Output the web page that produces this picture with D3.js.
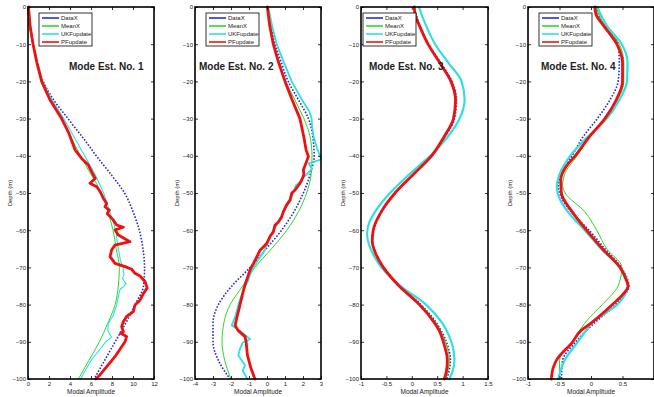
<!DOCTYPE html>
<html><head><meta charset="utf-8">
<script src="https://cdn.jsdelivr.net/npm/d3@7"></script>
<style>
html,body{margin:0;padding:0;background:#fff;}
svg{display:block;font-family:"Liberation Sans",Arial,sans-serif;}
</style></head>
<body><svg id="c" width="654" height="397"></svg>
<script>
// ---------- data: [depth (m), modal amplitude] ----------
const yTicks = [0,-10,-20,-30,-40,-50,-60,-70,-80,-90,-100];
const seriesNames = ["DataX","MeanX","UKFupdate","PFupdate"];
const titles = ["Mode Est. No. 1","Mode Est. No. 2","Mode Est. No. 3","Mode Est. No. 4"];
const xDomains = [[0,12],[-4,3],[-1,1.5],[-1,1]];
const xTicks1 = [0,2,4,6,8,10,12];
const xTicks2 = [-4,-3,-2,-1,0,1,2,3];
const xTicks3 = [-1,-0.5,0,0.5,1,1.5];
const xTicks4 = [-1,-0.5,0,0.5];

// Mode 1
const m1DataX = [[0,0],[-5,0.15],[-10,0.5],[-15,0.9],[-20,1.45],[-25,2.45],[-30,3.8],[-35,5.2],[-40,6.5],[-45,7.9],[-50,9.2],[-55,10.0],[-60,10.6],[-65,10.95],[-70,11.1],[-75,11.0],[-80,10.2],[-85,9.3],[-90,8.3],[-95,7.3],[-100,6.3]];
const m1MeanX = [[0,0],[-5,0.15],[-10,0.45],[-15,0.85],[-20,1.35],[-25,2.2],[-30,3.2],[-35,4.1],[-40,5.0],[-45,6.0],[-50,7.0],[-55,7.6],[-60,8.1],[-65,8.4],[-70,8.7],[-75,8.6],[-80,8.3],[-85,7.6],[-90,6.8],[-95,5.8],[-100,4.8]];
const m1UKF = [[0,0],[-5,0.15],[-10,0.48],[-15,0.9],[-20,1.4],[-25,2.3],[-30,3.4],[-35,4.4],[-40,5.4],[-45,6.4],[-50,7.2],[-55,7.8],[-60,8.35],[-65,8.6],[-68,8.8],[-70,9.05],[-72,9.15],[-73,9.0],[-74.5,9.35],[-76,8.75],[-80,8.45],[-83,8.1],[-85,7.65],[-87,7.6],[-88.8,7.95],[-90,7.4],[-92,6.85],[-95,6.0],[-97,5.6],[-100,5.0]];
const m1PF = [[0,0.05],[-5,0.2],[-10,0.48],[-15,0.85],[-20,1.3],[-25,2.1],[-30,3.2],[-34,3.9],[-38.4,4.48],[-40.7,5.11],[-42.5,5.75],[-44.5,6.1],[-46.1,6.4],[-47.4,5.9],[-48.3,6.54],[-49.6,6.86],[-51.4,7.17],[-52.8,7.49],[-53.7,7.33],[-54.6,7.74],[-55.5,7.55],[-57.3,8.13],[-58.6,8.44],[-59.2,9.08],[-59.9,8.29],[-61.3,8.6],[-63.1,9.71],[-64,8.29],[-65.3,7.97],[-67.1,7.81],[-68.9,8.29],[-69.8,9.24],[-70.5,9.87],[-71.6,10.19],[-72.3,10.67],[-73.8,11.14],[-75.5,11.35],[-77,11.0],[-78.8,10.67],[-80.1,10.19],[-81.9,10.03],[-83.2,9.39],[-84.6,9.08],[-85.9,8.92],[-87.3,9.08],[-87.7,8.82],[-88.6,9.39],[-90,9.24],[-94,8.28],[-98.9,6.85],[-100,6.46]];

// Mode 2
const m2DataX = [[0,0.05],[-5,0.2],[-10,0.45],[-15,0.8],[-20,1.18],[-25,1.75],[-30,2.3],[-35,2.55],[-40,2.62],[-45,2.4],[-50,2.02],[-55,1.5],[-60,0.81],[-65,-0.05],[-70,-0.94],[-75,-1.95],[-80,-2.7],[-85,-3.0],[-90,-3.0],[-95,-2.7],[-100,-2.05]];
const m2MeanX = [[0,0.02],[-5,0.15],[-10,0.38],[-15,0.7],[-20,1.05],[-25,1.55],[-30,2.05],[-35,2.4],[-40,2.5],[-45,2.45],[-50,2.2],[-55,1.75],[-60,1.1],[-65,0.25],[-70,-0.67],[-75,-1.35],[-80,-2.05],[-85,-2.4],[-90,-2.5],[-95,-2.35],[-100,-2.0]];
const m2UKF = [[0,0.07],[-5,0.28],[-10,0.54],[-15,0.95],[-20,1.37],[-25,1.95],[-28,2.35],[-30,2.48],[-32,2.5],[-35,2.6],[-38,2.78],[-40,2.95],[-41,3.0],[-42,2.3],[-43.5,2.5],[-45.5,2.1],[-47,1.85],[-48,1.6],[-50,1.45],[-52,1.3],[-54,1.05],[-55,0.95],[-57,0.7],[-58.5,0.55],[-60,0.35],[-62,0.15],[-64,0.0],[-66,-0.2],[-68,-0.5],[-70,-0.76],[-72,-0.95],[-73.4,-1.03],[-75,-1.2],[-78,-1.45],[-80,-1.59],[-83,-1.75],[-85.6,-1.96],[-87,-1.5],[-89.3,-0.94],[-90.2,-1.35],[-91.9,-1.5],[-93.7,-1.59],[-96.3,-1.22],[-97.7,-1.35],[-100,-1.09]];
const m2PF = [[0,0.02],[-5,0.15],[-10,0.35],[-15,0.65],[-20,1.0],[-25,1.4],[-30,1.83],[-35,2.05],[-38.4,2.17],[-40.2,2.3],[-41.5,2.2],[-43.8,2.02],[-45,2.05],[-46.5,1.93],[-47.4,1.83],[-49.2,1.56],[-50.1,1.37],[-51.9,1.28],[-53.2,1.09],[-54.1,1.0],[-55,0.91],[-56.5,0.81],[-57.8,0.63],[-58.7,0.44],[-60.5,0.35],[-61.4,0.2],[-62.7,0.07],[-63.6,-0.02],[-64.5,-0.2],[-65.4,-0.39],[-67.2,-0.57],[-69,-0.76],[-70.3,-0.91],[-72.1,-1.04],[-73.9,-1.17],[-76,-1.3],[-80.1,-1.5],[-84,-1.7],[-85.6,-1.77],[-87,-1.6],[-88.6,-1.22],[-90,-1.16],[-93.5,-1.09],[-97,-0.9],[-100,-0.67]];

// Mode 3
const m3DataX = [[0,0.05],[-5,0.16],[-10,0.33],[-15,0.57],[-20,0.79],[-25,0.88],[-30,0.84],[-35,0.65],[-40,0.4],[-45,0.04],[-50,-0.32],[-55,-0.59],[-60,-0.75],[-63,-0.77],[-66,-0.71],[-70,-0.55],[-75,-0.23],[-80,0.18],[-85,0.49],[-90,0.68],[-95,0.76],[-100,0.69]];
const m3MeanX = [[0,0.05],[-5,0.16],[-10,0.33],[-15,0.56],[-20,0.78],[-25,0.87],[-30,0.83],[-35,0.64],[-40,0.4],[-45,0.04],[-50,-0.32],[-55,-0.6],[-60,-0.76],[-63,-0.78],[-66,-0.72],[-70,-0.56],[-75,-0.24],[-80,0.17],[-85,0.48],[-90,0.66],[-95,0.74],[-100,0.67]];
const m3UKF = [[0,0.14],[-5,0.28],[-10,0.46],[-15,0.72],[-20,0.98],[-25,1.04],[-30,0.94],[-35,0.7],[-40,0.36],[-45,-0.05],[-50,-0.43],[-55,-0.72],[-58,-0.84],[-61,-0.88],[-64,-0.84],[-67,-0.74],[-70,-0.6],[-75,-0.22],[-80,0.28],[-85,0.6],[-88,0.72],[-91,0.8],[-95,0.84],[-98,0.8],[-100,0.74]];
const m3PF = [[0,0.05],[-2,0.06],[-5,0.15],[-10,0.32],[-15,0.55],[-20,0.77],[-25,0.86],[-30,0.82],[-35,0.63],[-40,0.39],[-45,0.03],[-50,-0.33],[-55,-0.6],[-60,-0.76],[-63,-0.78],[-66,-0.72],[-70,-0.56],[-75,-0.25],[-80,0.15],[-85,0.45],[-87,0.54],[-90,0.62],[-95,0.7],[-98,0.68],[-100,0.64]];

// Mode 4
const m4DataX = [[0,0.08],[-5,0.2],[-10,0.43],[-15,0.45],[-20,0.43],[-25,0.3],[-30,0.1],[-35,-0.13],[-40,-0.3],[-45,-0.47],[-48,-0.52],[-50,-0.5],[-55,-0.32],[-60,-0.03],[-65,0.22],[-70,0.48],[-75,0.6],[-80,0.39],[-85,0.05],[-90,-0.24],[-95,-0.45],[-100,-0.47]];
const m4MeanX = [[0,0.07],[-5,0.22],[-10,0.45],[-15,0.52],[-20,0.52],[-25,0.42],[-30,0.22],[-35,-0.02],[-40,-0.22],[-45,-0.42],[-48,-0.45],[-50,-0.41],[-55,-0.1],[-60,0.09],[-65,0.25],[-70,0.49],[-73.4,0.46],[-75,0.43],[-80,0.18],[-85,-0.1],[-87,-0.18],[-90,-0.3],[-95,-0.5],[-100,-0.5]];
const m4UKF = [[0,0.1],[-5,0.25],[-10,0.49],[-15,0.58],[-20,0.57],[-25,0.45],[-30,0.25],[-35,-0.06],[-40,-0.33],[-45,-0.5],[-48,-0.54],[-50,-0.53],[-55,-0.37],[-60,-0.1],[-65,0.16],[-70,0.46],[-73.4,0.57],[-75,0.58],[-80,0.42],[-85,0.0],[-87,-0.08],[-90,-0.21],[-95,-0.42],[-100,-0.52]];
const m4PF = [[0,0.06],[-2,0.08],[-5,0.2],[-10,0.41],[-15,0.5],[-20,0.5],[-25,0.4],[-30,0.22],[-35,-0.03],[-40,-0.25],[-43,-0.4],[-46.5,-0.48],[-50,-0.47],[-55,-0.3],[-60,-0.07],[-65,0.18],[-70,0.46],[-73.4,0.56],[-75,0.59],[-77,0.52],[-80,0.34],[-85,0.0],[-87,-0.16],[-90,-0.29],[-95,-0.55],[-97,-0.6],[-100,-0.63]];

const panelData = [
  [m1DataX, m1MeanX, m1UKF, m1PF],
  [m2DataX, m2MeanX, m2UKF, m2PF],
  [m3DataX, m3MeanX, m3UKF, m3PF],
  [m4DataX, m4MeanX, m4UKF, m4PF]
];
const panelTicks = [xTicks1, xTicks2, xTicks3, xTicks4];

// ---------- layout / style ----------
const layout = [
  {x0:28, x1:154, titleX:69, legX:39, labX:10},
  {x0:195, x1:321, titleX:199, legX:206, labX:177},
  {x0:361, x1:488, titleX:369, legX:363, labX:343},
  {x0:528, x1:654, titleX:541, legX:539, labX:510}
];
const colors = ["#2b2bd0","#2ed62e","#2ee0e0","#ee1111"];
const cyanWidth = [1.1, 1.8, 2.2, 2.2];
const jagged = [true, true, false, false];
const yTop = 7, yBottom = 379;

const svg = d3.select("#c");
const y = d3.scaleLinear().domain([0,-100]).range([yTop,yBottom]);

layout.forEach((L, i) => {
  const g = svg.append("g");
  const x = d3.scaleLinear().domain(xDomains[i]).range([L.x0, L.x1]);

  // curves
  panelData[i].forEach((ser, s) => {
    const curve = (jagged[i] && s >= 2) ? d3.curveLinear : d3.curveMonotoneY;
    const line = d3.line().x(d => x(d[1])).y(d => y(d[0])).curve(curve);
    const p = g.append("path").datum(ser).attr("d", line)
      .attr("fill","none").attr("stroke", colors[s])
      .attr("stroke-linejoin","round").attr("stroke-linecap", s===0 ? "butt" : "round");
    if (s === 0) p.attr("stroke-width",1.6).attr("stroke-dasharray","1.6,1.6");
    else if (s === 1) p.attr("stroke-width",1);
    else if (s === 2) p.attr("stroke-width",cyanWidth[i]);
    else p.attr("stroke-width",2.8);
  });

  // axes
  const axL = d3.axisLeft(y).tickValues(yTicks).tickSizeInner(-3).tickSizeOuter(0).tickPadding(2).tickFormat(d3.format("d"));
  const axR = d3.axisRight(y).tickValues(yTicks).tickSizeInner(-3).tickSizeOuter(0).tickFormat("");
  const axB = d3.axisBottom(x).tickValues(panelTicks[i]).tickSizeInner(-3).tickSizeOuter(0).tickPadding(3).tickFormat(d => String(d));
  const axT = d3.axisTop(x).tickValues(panelTicks[i]).tickSizeInner(-3).tickSizeOuter(0).tickFormat("");
  const gl = g.append("g").attr("transform",`translate(${L.x0},0)`).call(axL);
  const gr = g.append("g").attr("transform",`translate(${L.x1},0)`).call(axR);
  const gb = g.append("g").attr("transform",`translate(0,${yBottom})`).call(axB);
  const gt = g.append("g").attr("transform",`translate(0,${yTop})`).call(axT);
  [gl,gr,gb,gt].forEach(a => {
    a.select(".domain").remove();
    a.selectAll(".tick line").attr("stroke","#000").attr("stroke-width",0.8);
    a.selectAll("text").attr("font-size",6).attr("fill","#222").attr("font-family","Liberation Sans, Arial, sans-serif");
  });

  // frame
  g.append("rect").attr("x",L.x0).attr("y",yTop).attr("width",L.x1-L.x0).attr("height",yBottom-yTop)
    .attr("fill","none").attr("stroke","#000").attr("stroke-width",1.6);

  // title
  g.append("text").attr("x",L.titleX).attr("y",70).text(titles[i])
    .attr("font-size",10).attr("font-weight","bold").attr("fill","#222");

  // axis labels
  g.append("text").attr("x",(L.x0+L.x1)/2).attr("y",394).attr("text-anchor","middle")
    .attr("font-size",6.5).attr("fill","#222").text("Modal Amplitude");
  g.append("text").attr("transform",`translate(${L.labX},${(yTop+yBottom)/2}) rotate(-90)`)
    .attr("text-anchor","middle").attr("dy","0.35em")
    .attr("font-size",6).attr("fill","#222").text("Depth (m)");

  // legend
  const lg = g.append("g").attr("transform",`translate(${L.legX},13)`);
  lg.append("rect").attr("width",53).attr("height",33).attr("fill","#fff").attr("stroke","#000").attr("stroke-width",0.8);
  seriesNames.forEach((nm, s) => {
    const yy = 5 + s*8;
    lg.append("line").attr("x1",3).attr("x2",20).attr("y1",yy).attr("y2",yy)
      .attr("stroke",colors[s]).attr("stroke-width",1.6);
    lg.append("text").attr("x",22).attr("y",yy).attr("dy","0.35em")
      .attr("font-size",6).attr("fill","#222").text(nm);
  });
});
</script></body></html>
